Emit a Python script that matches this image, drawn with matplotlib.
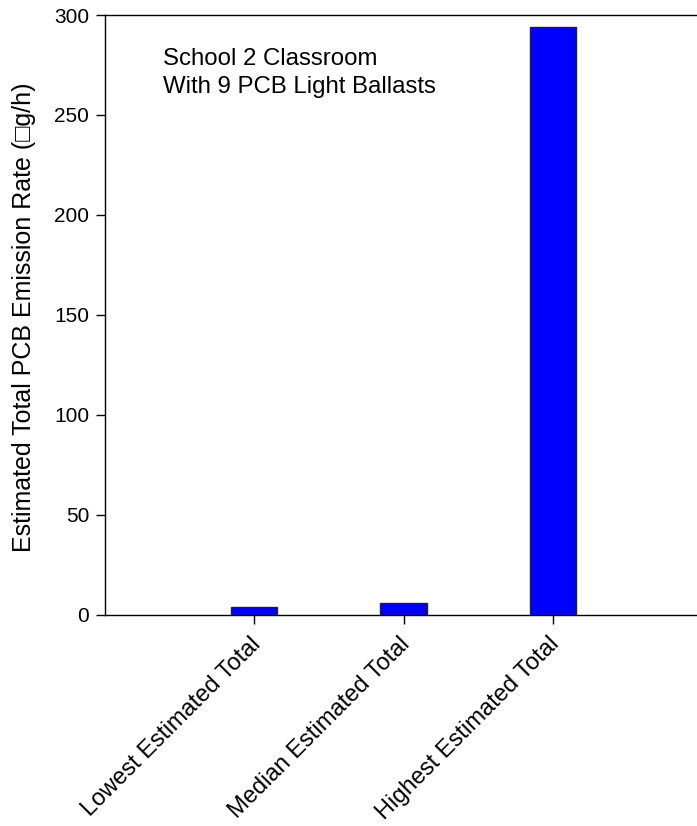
import matplotlib
matplotlib.use("Agg")
import matplotlib.pyplot as plt
from matplotlib.transforms import ScaledTranslation

plt.rcParams['font.family'] = ['Liberation Sans', 'DejaVu Sans']

categories = ["Lowest Estimated Total", "Median Estimated Total", "Highest Estimated Total"]
emission_rates = [3.6, 5.6, 294.0]
y_ticks = [0, 50, 100, 150, 200, 250, 300]

fig = plt.figure(figsize=(6.97, 8.26), dpi=100)
W, H = 697, 826
left, right, top, bottom = 105.1, 701.9, 15.0, 614.5
ax = fig.add_axes([left / W, 1 - bottom / H, (right - left) / W, (bottom - top) / H])

x = [1, 2, 3]
ax.bar(x, emission_rates, width=0.31, color="#0000FF", edgecolor="#222222", linewidth=1.0, zorder=3)

ax.set_xlim(0, 4)
ax.set_ylim(0, 300)
ax.set_yticks(y_ticks)
ax.set_yticklabels([str(v) for v in y_ticks], fontsize=15)
ax.set_xticks(x)
ax.set_xticklabels(categories, rotation=45, ha="right", va="top", rotation_mode="anchor", fontsize=17)
ax.tick_params(axis="both", direction="out", length=6.5, width=1, color="black")
ax.tick_params(axis="x", pad=7)
ax.tick_params(axis="y", pad=5)

# nudge the slanted category labels slightly to the left
shift = ScaledTranslation(-0.05, 0, fig.dpi_scale_trans)
for lbl in ax.get_xticklabels():
    lbl.set_transform(lbl.get_transform() + shift)

for side in ["left", "bottom", "top", "right"]:
    ax.spines[side].set_linewidth(1.0)
    ax.spines[side].set_color("black")

ax.set_ylabel("Estimated Total PCB Emission Rate (\u25a1g/h)", fontsize=18, va="center")
ax.yaxis.set_label_coords(-0.136, 0.495)

# annotation in the upper-left of the plot area
ax.text(0.388, 275.0, "School 2 Classroom", fontsize=17.3, ha="left", va="baseline")
ax.text(0.388, 261.0, "With 9 PCB Light Ballasts", fontsize=17.3, ha="left", va="baseline")

fig.savefig("out.png", dpi=100)
